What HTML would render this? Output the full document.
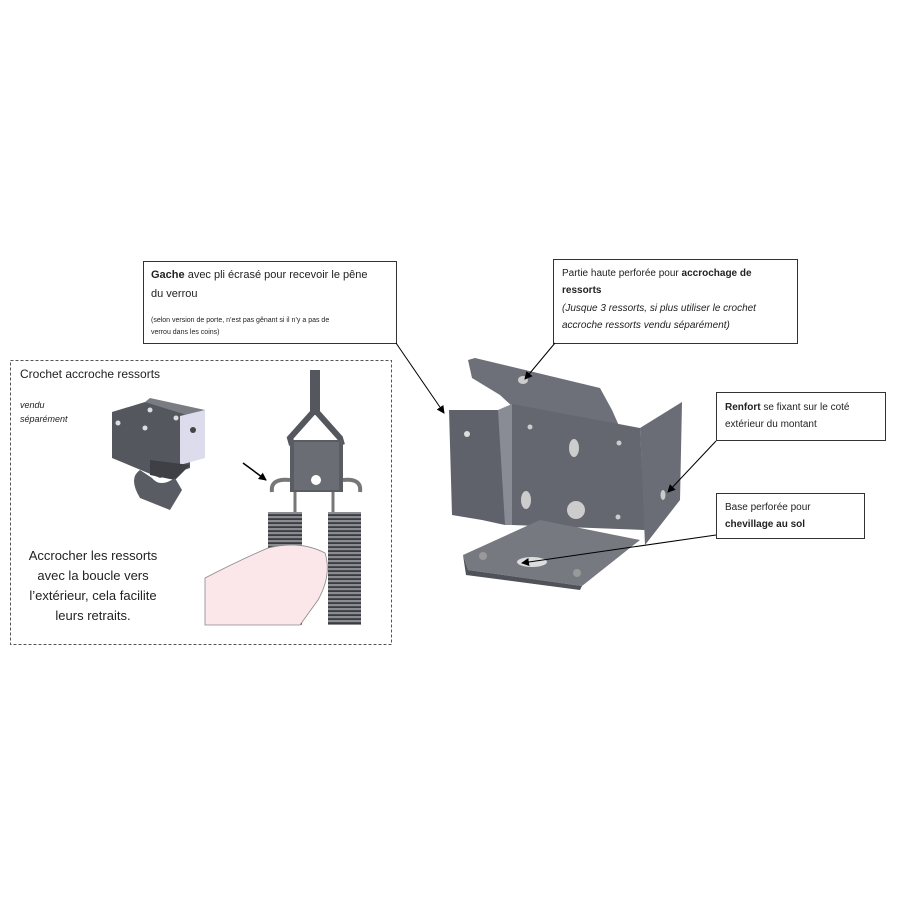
<!DOCTYPE html>
<html><head><meta charset="utf-8"><style>
html,body{margin:0;padding:0;background:#fff;}
svg{display:block;font-family:"Liberation Sans",sans-serif;}
</style></head><body>
<svg width="900" height="900" viewBox="0 0 900 900" xmlns="http://www.w3.org/2000/svg">
<defs>
<pattern id="coil" width="6" height="4" patternUnits="userSpaceOnUse">
<rect width="6" height="4" fill="#8a8c92"/><rect y="2.2" width="6" height="1.8" fill="#3a3b40"/>
</pattern>
<marker id="ah" markerWidth="8" markerHeight="8" refX="7" refY="4" orient="auto" markerUnits="userSpaceOnUse">
<path d="M0,0 L8,4 L0,8 z" fill="#000"/></marker>
</defs>
<rect width="900" height="900" fill="#fff"/>

<!-- dashed box -->
<rect x="10.5" y="360.5" width="381" height="284" fill="none" stroke="#555" stroke-dasharray="3,2"/>
<text x="20" y="378" font-size="12" fill="#222">Crochet accroche ressorts</text>
<text x="20" y="408" font-size="9" font-style="italic" fill="#222">vendu</text>
<text x="20" y="422" font-size="9" font-style="italic" fill="#222">séparément</text>
<g font-size="13" fill="#222" text-anchor="middle">
<text x="93" y="560">Accrocher les ressorts</text>
<text x="93" y="580">avec la boucle vers</text>
<text x="93" y="600">l’extérieur, cela facilite</text>
<text x="93" y="620">leurs retraits.</text>
</g>

<!-- hook piece -->
<polygon points="112,412 145,402 190,412 190,468 160,478 112,458" fill="#55575f"/>
<polygon points="145,402 150,398 205,410 190,416" fill="#7a7c84"/>
<polygon points="180,416 205,410 205,458 180,465" fill="#dcdcec"/>
<polygon points="150,460 190,465 175,480 150,475" fill="#3f4046"/>
<path d="M140,470 Q128,478 140,498 L170,510 L182,490 L175,478 Q160,488 152,478 Z" fill="#5a5c64"/>
<circle cx="118" cy="423" r="2.5" fill="#ddd"/><circle cx="145" cy="428" r="2.5" fill="#ddd"/>
<circle cx="150" cy="410" r="2.5" fill="#ddd"/><circle cx="176" cy="418" r="2.5" fill="#ddd"/>
<circle cx="193" cy="430" r="3" fill="#444"/>

<!-- spring assembly -->
<rect x="310" y="370" width="10" height="45" fill="#55575f"/>
<polyline points="315,410 290,438 292,445" fill="none" stroke="#55575f" stroke-width="6"/>
<polyline points="315,410 340,438 342,445" fill="none" stroke="#55575f" stroke-width="6"/>
<rect x="290" y="440" width="53" height="52" fill="#5a5c64"/>
<rect x="294" y="442" width="45" height="48" fill="#6b6d75"/>
<circle cx="316" cy="480" r="5" fill="#fff"/>
<path d="M290,480 Q270,478 272,492" fill="none" stroke="#777" stroke-width="4"/>
<path d="M343,480 Q362,478 360,492" fill="none" stroke="#777" stroke-width="4"/>
<rect x="268" y="512" width="34" height="113" fill="url(#coil)"/>
<rect x="328" y="512" width="33" height="113" fill="url(#coil)"/>
<path d="M295,492 L295,512 M333,492 L333,512" stroke="#777" stroke-width="3"/>
<path d="M205,578 Q240,560 268,548 Q300,540 325,553 Q332,575 318,600 L300,625 L205,625 Z" fill="#fbe6ea" stroke="#888" stroke-width="0.8"/>
<line x1="243" y1="463" x2="266" y2="480" stroke="#000" stroke-width="1.5" marker-end="url(#ah)"/>

<!-- bracket -->
<polygon points="468,360 475,358 600,388 612,410 620,428 540,432 500,395 472,378" fill="#6e7079"/>
<polygon points="449,410 498,410 505,420 505,525 482,520 452,515" fill="#60626b"/>
<polygon points="498,410 512,404 512,525 505,525" fill="#8a8c95"/>
<polygon points="512,404 640,428 645,530 512,525" fill="#646670"/>
<polygon points="640,428 682,402 680,500 645,545" fill="#6a6c76"/>
<polygon points="540,520 640,540 582,586 468,570 463,555" fill="#777981"/>
<polygon points="463,555 468,570 582,586 580,590 466,575" fill="#50525a"/>
<ellipse cx="523" cy="380" rx="5" ry="4" fill="#ccc"/>
<ellipse cx="574" cy="448" rx="5" ry="9" fill="#ccc"/>
<ellipse cx="526" cy="500" rx="5" ry="9" fill="#ccc"/>
<circle cx="576" cy="510" r="9" fill="#ccc"/>
<circle cx="467" cy="434" r="3" fill="#ddd"/>
<circle cx="530" cy="427" r="2.5" fill="#ccc"/><circle cx="619" cy="443" r="2.5" fill="#ccc"/>
<circle cx="618" cy="517" r="2.5" fill="#ccc"/>
<ellipse cx="663" cy="495" rx="2.5" ry="5" fill="#ccc"/>
<ellipse cx="532" cy="562" rx="15" ry="5" fill="#ddd"/>
<circle cx="483" cy="556" r="4" fill="#999"/><circle cx="577" cy="573" r="4" fill="#999"/>

<!-- callout boxes -->
<rect x="143.5" y="261.5" width="253" height="82" fill="#fff" stroke="#333"/>
<text x="151" y="278" font-size="11" fill="#222"><tspan font-weight="bold">Gache</tspan> avec pli écrasé  pour recevoir le pêne</text>
<text x="151" y="297" font-size="11" fill="#222">du verrou</text>
<text x="151" y="322" font-size="7" fill="#222">(selon version de porte, n’est pas gênant si il n’y a pas de</text>
<text x="151" y="334" font-size="7" fill="#222">verrou dans les coins)</text>
<line x1="396" y1="343" x2="444" y2="413" stroke="#000" marker-end="url(#ah)"/>

<rect x="553.5" y="259.5" width="244" height="84" fill="#fff" stroke="#333"/>
<text x="562" y="276" font-size="10" fill="#222">Partie haute perforée pour <tspan font-weight="bold">accrochage de</tspan></text>
<text x="562" y="293" font-size="10" font-weight="bold" fill="#222">ressorts</text>
<text x="562" y="311" font-size="10" font-style="italic" fill="#222">(Jusque 3 ressorts, si plus  utiliser le crochet</text>
<text x="562" y="328" font-size="10" font-style="italic" fill="#222">accroche ressorts vendu séparément)</text>
<line x1="555" y1="343" x2="525" y2="379" stroke="#000" marker-end="url(#ah)"/>

<rect x="716.5" y="392.5" width="169" height="48" fill="#fff" stroke="#333"/>
<text x="725" y="410" font-size="10" fill="#222"><tspan font-weight="bold">Renfort</tspan> se fixant sur le coté</text>
<text x="725" y="427" font-size="10" fill="#222">extérieur du montant</text>
<line x1="716" y1="441" x2="668" y2="492" stroke="#000" marker-end="url(#ah)"/>

<rect x="716.5" y="493.5" width="148" height="45" fill="#fff" stroke="#333"/>
<text x="725" y="510" font-size="10" fill="#222">Base perforée pour</text>
<text x="725" y="527" font-size="10" font-weight="bold" fill="#222">chevillage au sol</text>
<line x1="716" y1="535" x2="522" y2="563" stroke="#000" marker-end="url(#ah)"/>
</svg>
</body></html>
